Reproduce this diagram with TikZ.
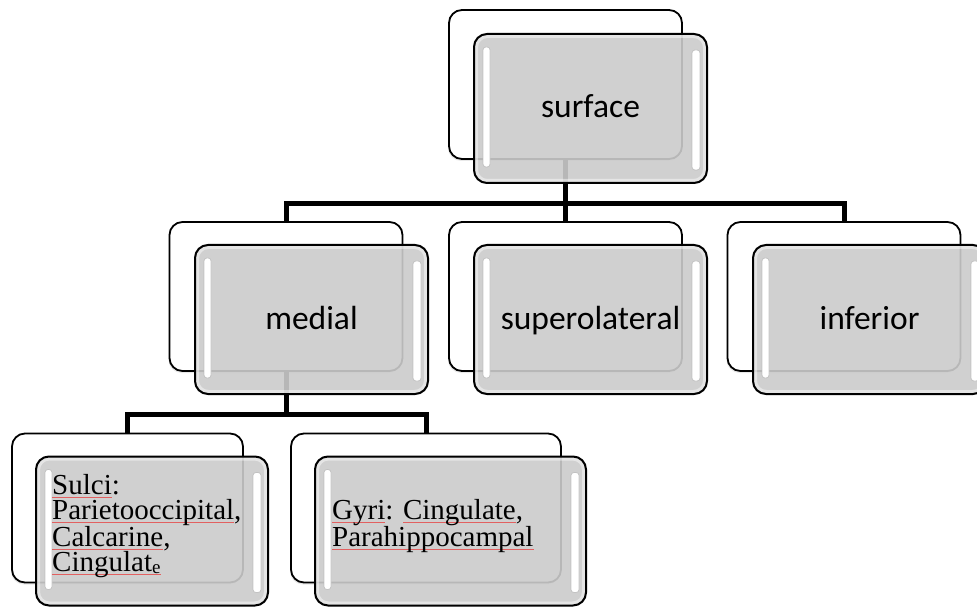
\documentclass[tikz,border=0pt]{standalone}
\usepackage{fontspec}
\setmainfont{Liberation Serif}
\newfontfamily\boxfont{Carlito}
\usetikzlibrary{calc,shadows}

\definecolor{panelgray}{RGB}{203,203,203}
\definecolor{spellred}{RGB}{226,96,96}
\definecolor{glossedge}{RGB}{185,185,185}

% word with the thin red underline
\newcommand\misspelt[1]{\setbox0\hbox{#1}\rlap{\textcolor{spellred}{\rule[-3.2pt]{\wd0}{0.8pt}}}\box0}

\begin{document}
\begin{tikzpicture}[x=1pt,y=1pt,
  backbox/.style={draw=black, line width=1.8pt, fill=white, rounded corners=13pt,
    minimum width=233pt, minimum height=149pt, inner sep=0pt, outer sep=0pt,
    drop shadow={shadow xshift=-1pt, shadow yshift=-2pt, opacity=0.18}},
  frontbox/.style={draw=black, line width=2pt, fill=panelgray, fill opacity=0.9,
    text opacity=1, rounded corners=13pt,
    minimum width=233pt, minimum height=149pt, inner sep=0pt, outer sep=0pt,
    text height=25pt, text depth=6pt,
    font=\boxfont\fontsize{33.5}{36}\selectfont,
    path picture={
      % light rim just inside the outline
      \draw[white, draw opacity=0.45, line width=3pt, rounded corners=11pt]
        ($(path picture bounding box.north west)+(2.5pt,-2.5pt)$) rectangle
        ($(path picture bounding box.south east)+(-2.5pt,2.5pt)$);
      % glossy vertical highlights
      \filldraw[fill=white, draw=glossedge, line width=0.7pt, fill opacity=1,
        draw opacity=0.8, rounded corners=3pt]
        ($(path picture bounding box.north west)+(9pt,-13pt)$) rectangle
        ($(path picture bounding box.south west)+(16pt,16pt)$);
      \filldraw[fill=white, draw=glossedge, line width=0.7pt, fill opacity=1,
        draw opacity=0.8, rounded corners=3pt]
        ($(path picture bounding box.north east)+(-15pt,-16pt)$) rectangle
        ($(path picture bounding box.south east)+(-7pt,13pt)$);
    }},
  listtext/.style={align=left, inner sep=0pt, anchor=west,
    font=\fontsize{29}{25}\selectfont},
  link/.style={line width=5pt, draw=black},
  ]
\useasboundingbox (0,0) rectangle (977,606);
\clip (0,0) rectangle (977,606);

% back cards
\node[backbox] (surfaceB)  at (565.5,521.5) {};
\node[backbox] (medialB)   at (286,309.5) {};
\node[backbox] (superB)    at (565.5,309.5) {};
\node[backbox] (inferiorB) at (844,309.5) {};
\node[backbox, minimum width=231pt] (sulciB) at (127.5,98) {};
\node[backbox, minimum width=270pt] (gyriB)  at (426,98) {};

% connectors
\coordinate (topbus) at (565.5,402.5);
\coordinate (lowbus) at (286,191.5);
\draw[link] (surfaceB.south) -- (topbus) -| (medialB.north);
\draw[link] (topbus) -- (superB.north);
\draw[link] (topbus) -| (inferiorB.north);
\draw[link] (medialB.south) -- (lowbus) -| (sulciB.north);
\draw[link] (lowbus) -| (gyriB.north);

% front cards
\node[frontbox] (surface)  at (590.5,497.5) {surface};
\node[frontbox] (medial)   at (311.5,286.5) {medial};
\node[frontbox] (super)    at (590.5,286.5) {superolateral};
\node[frontbox] (inferior) at (869.5,286.5) {inferior};
\node[frontbox, minimum width=232pt] (sulci) at (152,75) {};
\node[frontbox, minimum width=271pt] (gyri)  at (450.5,75) {};

% card texts
\node[listtext] (sulciT) at ($(sulci.west)+(16,5)$)
  {\misspelt{Sulci}:\\ \misspelt{Parietooccipital},\\ \misspelt{Calcarine},\\
   \misspelt{Cingulat\raisebox{-1.5pt}{\fontsize{19}{19}\selectfont e}}};
\node[listtext] (gyriT) at ($(gyri.west)+(17,5)$)
  {\misspelt{Gyri}: \misspelt{Cingulate},\\ \misspelt{Parahippocampal}};
\end{tikzpicture}
\end{document}
